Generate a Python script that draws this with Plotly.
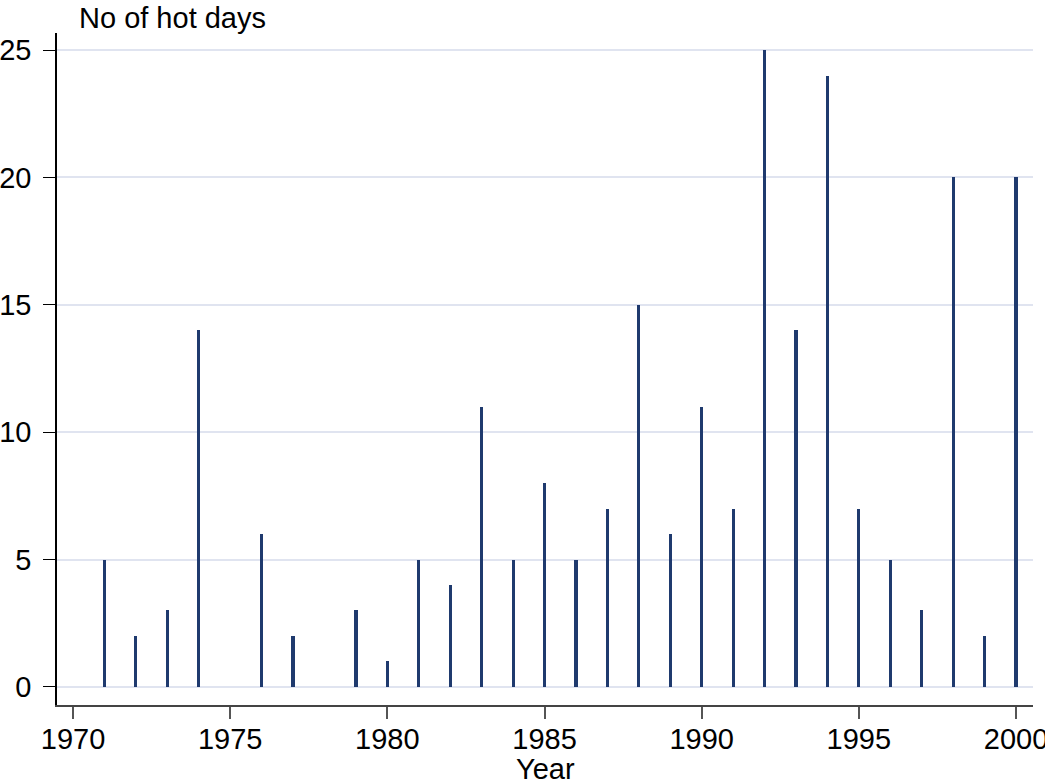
import plotly.graph_objects as go

years = [1971, 1972, 1973, 1974, 1975, 1976, 1977, 1978, 1979, 1980,
         1981, 1982, 1983, 1984, 1985, 1986, 1987, 1988, 1989, 1990,
         1991, 1992, 1993, 1994, 1995, 1996, 1997, 1998, 1999, 2000]
hot_days = [5, 2, 3, 14, 0, 6, 2, 0, 3, 1,
            5, 4, 11, 5, 8, 5, 7, 15, 6, 11,
            7, 25, 14, 24, 7, 5, 3, 20, 2, 20]
x_ticks = [1970, 1975, 1980, 1985, 1990, 1995, 2000]
y_ticks = [0, 5, 10, 15, 20, 25]

navy = "#1f3a6e"
font = "Liberation Sans, Arial, sans-serif"

fig = go.Figure()
fig.add_trace(go.Bar(x=years, y=hot_days, width=0.1,
                     marker=dict(color=navy, line=dict(width=0)),
                     showlegend=False))

fig.update_layout(
    width=1045, height=781,
    paper_bgcolor="white", plot_bgcolor="white",
    margin=dict(l=57, r=12, t=33, b=76),
    font=dict(family=font, size=29, color="black"),
    bargap=0,
    xaxis=dict(range=[1969.49, 2000.54], tickvals=x_ticks,
               ticks="outside", ticklen=12, tickcolor="#555", tickwidth=2,
               showline=True, linecolor="#444", linewidth=2,
               showgrid=False, zeroline=False, automargin=False,
               ticklabelstandoff=-5,
               ticklabeloverflow="allow", tickfont=dict(size=29)),
    yaxis=dict(range=[-0.71, 25.67], tickvals=y_ticks,
               ticks="outside", ticklen=12, tickcolor="black", tickwidth=1,
               showline=True, linecolor="black", linewidth=1.5,
               showgrid=True, gridcolor="#e0e4f0", gridwidth=2,
               zeroline=False, automargin=False, ticklabelstandoff=6,
               ticklabeloverflow="allow", tickfont=dict(size=29)),
    annotations=[
        dict(text="No of hot days", xref="paper", yref="paper",
             x=0.02, y=1.0, xanchor="left", yanchor="top",
             yshift=33, showarrow=False, font=dict(size=29)),
        dict(text="Year", xref="paper", yref="paper",
             x=0.5, y=0.0, xanchor="center", yanchor="top",
             yshift=-46, showarrow=False, font=dict(size=29)),
    ],
)

fig.write_html("out.html", config={"displayModeBar": False},
               post_script="document.body.style.margin='0';document.body.style.overflow='hidden';")
